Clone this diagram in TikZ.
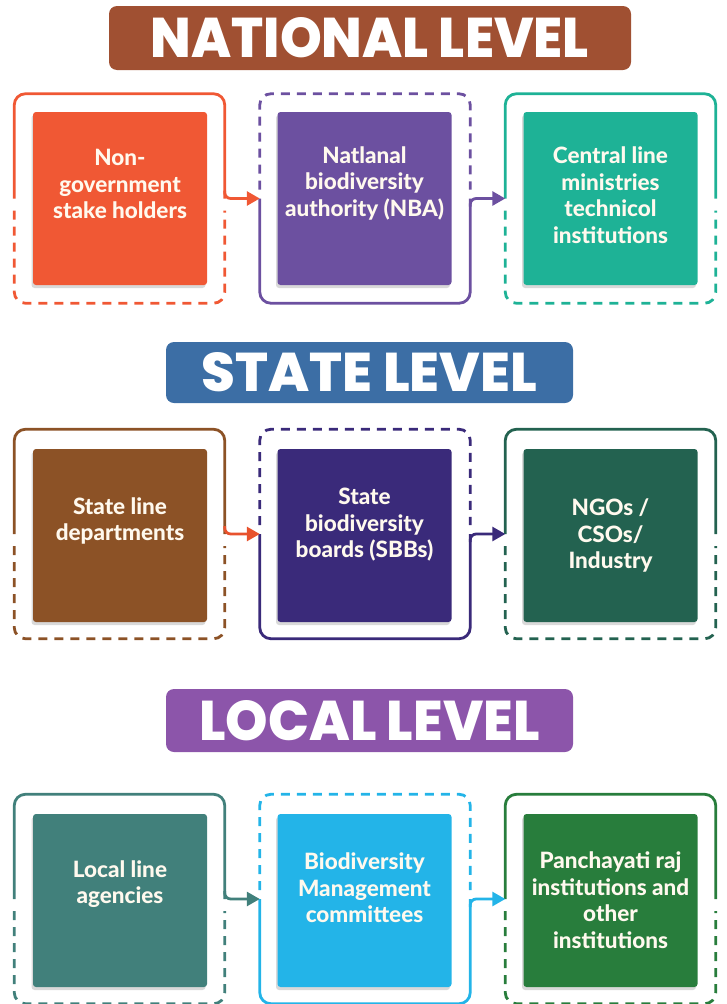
\documentclass[tikz,border=0pt]{standalone}
\usepackage{fontspec}
\setmainfont{Lato}[BoldFont={Lato Heavy}]
\newfontfamily\titlefont{Poppins}[BoldFont={Poppins ExtraBold}]
\usetikzlibrary{arrows.meta,shadows}
\definecolor{natbar}{RGB}{160,80,50}
\definecolor{statebar}{RGB}{60,110,165}
\definecolor{localbar}{RGB}{140,85,170}
\definecolor{cA}{RGB}{240,88,52}
\definecolor{cB}{RGB}{108,80,160}
\definecolor{cC}{RGB}{30,178,150}
\definecolor{cD}{RGB}{140,82,38}
\definecolor{cE}{RGB}{58,42,122}
\definecolor{cF}{RGB}{35,98,80}
\definecolor{cG}{RGB}{65,128,123}
\definecolor{cH}{RGB}{35,180,232}
\definecolor{cI}{RGB}{40,125,60}
\definecolor{arrD}{RGB}{232,82,45}
\definecolor{txtw}{RGB}{255,249,238}
\begin{document}
\begin{tikzpicture}[x=1pt,y=-1pt,
  bar/.style={rounded corners=8pt, inner sep=0pt, text=white, font=\titlefont\bfseries},
  frm/.style={minimum width=210pt, minimum height=209pt, inner sep=0pt, draw=none},
  boxx/.style={minimum width=174pt, minimum height=173pt, inner sep=0pt, rounded corners=3pt,
    drop shadow={shadow xshift=-1.5pt, shadow yshift=-3pt, fill=black, opacity=0.15}},
  txt/.style={align=center, text=txtw, font=\fontsize{22.5}{26.5}\selectfont\bfseries, inner sep=0pt},
  fr/.style={line width=2.8pt, rounded corners=11pt},
  frd/.style={fr, dash pattern=on 9pt off 7pt},
  arr/.style={line width=2.8pt, rounded corners=6pt, -{Triangle[length=13pt,width=14pt]}}]
\useasboundingbox (0,0) rectangle (726,1004);

% ---------- title bars
\node[bar, fill=natbar, minimum width=522pt, minimum height=64pt] (nat) at (370,38)
  {\resizebox{438pt}{40pt}{NATIONAL LEVEL}};
\node[bar, fill=statebar, minimum width=407pt, minimum height=61pt] (sta) at (369.5,372.5)
  {\resizebox{335pt}{39pt}{STATE LEVEL}};
\node[bar, fill=localbar, minimum width=407pt, minimum height=63pt] (loc) at (369.5,720.5)
  {\resizebox{340pt}{40pt}{LOCAL LEVEL}};

% ---------- frames (invisible anchors)
\foreach \r/\y in {1/198.5, 2/534, 3/899}{
  \node[frm] (f\r1) at (119.5,\y) {};
  \node[frm] (f\r2) at (365,\y) {};
  \node[frm] (f\r3) at (610.5,\y) {};
}

% ---------- filled boxes
\node[boxx, fill=cA] (b11) at (120,198.5) {};
\node[boxx, fill=cB] (b12) at (364.5,198.5) {};
\node[boxx, fill=cC] (b13) at (610.5,198.5) {};
\node[boxx, fill=cD] (b21) at (120,535.5) {};
\node[boxx, fill=cE] (b22) at (364.5,535.5) {};
\node[boxx, fill=cF] (b23) at (610.5,535.5) {};
\node[boxx, fill=cG] (b31) at (120,900.5) {};
\node[boxx, fill=cH] (b32) at (364.5,900.5) {};
\node[boxx, fill=cI] (b33) at (610.5,900.5) {};

% ---------- texts
\node[txt] (t11) at (120,184) {Non-\\government\\stake holders};
\node[txt] (t12) at (364.5,183) {Natlanal\\biodiversity\\authority (NBA)};
\node[txt] (t13) at (610.5,195) {Central line\\ministries\\technicol\\institutions};
\node[txt] (t21) at (120,521) {State line\\departments};
\node[txt] (t22) at (364.5,525) {State\\biodiversity\\boards (SBBs)};
\node[txt] (t23) at (610.5,535.5) {NGOs /\\CSOs/\\Industry};
\node[txt] (t31) at (120,884) {Local line\\agencies};
\node[txt] (t32) at (364.5,888) {Biodiversity\\Management\\committees};
\node[txt] (t33) at (610.5,900) {Panchayati raj\\institutions and\\other\\institutions};

% ---------- frame outlines and arrows, per row
\foreach \r/\ca/\cb/\cc/\aa in {1/cA/cB/cC/cA, 2/cD/cE/cF/arrD, 3/cG/cH/cI/cG}{
  % left frame: solid top, dashed bottom
  \draw[fr, \ca] (f\r1.west) -- (f\r1.north west) -- (f\r1.north east) -- (f\r1.east);
  \draw[frd, \ca] ([yshift=-12pt]f\r1.west) -- (f\r1.south west) -- (f\r1.south east) -- ([yshift=-12pt]f\r1.east);
  % middle frame: dashed top, solid bottom
  \draw[frd, \cb] ([yshift=9pt]f\r2.west) -- (f\r2.north west) -- (f\r2.north east) -- ([yshift=9pt]f\r2.east);
  \draw[fr, \cb] (f\r2.west) -- (f\r2.south west) -- (f\r2.south east) -- (f\r2.east);
  % right frame: solid top, dashed bottom
  \draw[fr, \cc] (f\r3.west) -- (f\r3.north west) -- (f\r3.north east) -- (f\r3.east);
  \draw[frd, \cc] ([yshift=-12pt]f\r3.west) -- (f\r3.south west) -- (f\r3.south east) -- ([yshift=-12pt]f\r3.east);
  % arrows
  \draw[arr, \aa] ([yshift=8pt]f\r1.east) -- (f\r1.east) -- (f\r2.west);
  \draw[arr, \cb] ([yshift=-8pt]f\r2.east) -- (f\r2.east) -- (f\r3.west);
}
\end{tikzpicture}
\end{document}
